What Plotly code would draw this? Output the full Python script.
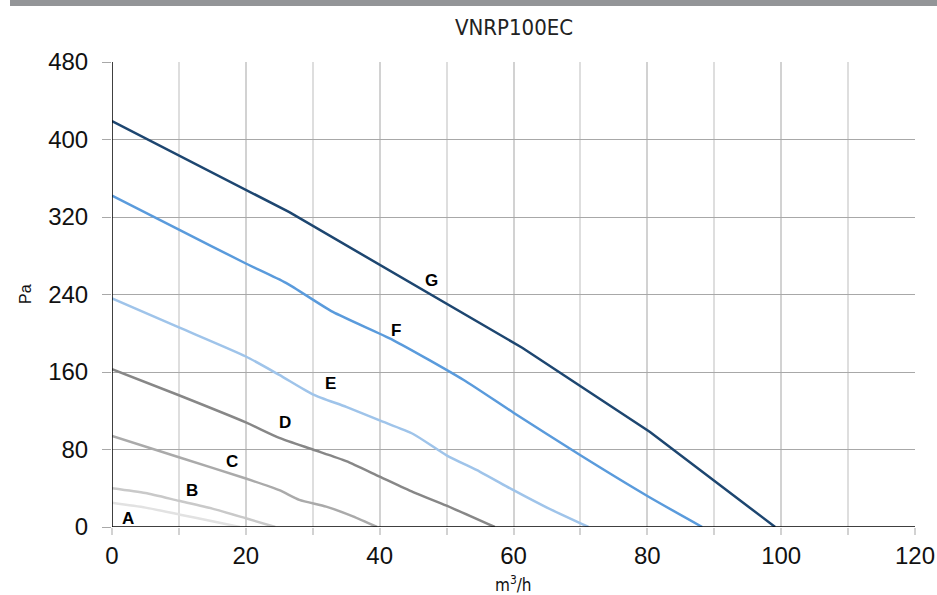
import plotly.graph_objects as go

# ---- data ----
series_names = ["A", "B", "C", "D", "E", "F", "G"]
A_x = [0, 5, 10, 15, 19.1]
A_y = [25, 20, 13, 6, 0]
B_x = [0, 5, 10, 15, 20, 24.4]
B_y = [40, 35, 27, 19, 9, 0]
C_x = [0, 10, 20, 25, 28, 32, 36, 39.6]
C_y = [94, 72, 50, 38, 28, 21, 11, 0]
D_x = [0, 10, 20, 25, 30, 35, 40, 45, 50, 57.2]
D_y = [163, 136, 108, 92, 80, 68, 52, 36, 22, 0]
E_x = [0, 10, 20, 25, 30, 35, 40, 45, 50, 55, 60, 65, 71.2]
E_y = [236, 206, 176, 157, 137, 124, 110, 96, 74, 57, 38, 20, 0]
F_x = [0, 10, 20, 26, 33, 42, 52.5, 60, 70, 80, 88.2]
F_y = [342, 307, 272, 252, 222, 193, 152, 118, 74, 32, 0]
G_x = [0, 26.5, 61.3, 80.4, 99.1]
G_y = [419, 325, 185, 98, 0]

label_x = [2.4, 12, 18, 25.9, 32.7, 42.5, 47.7]
label_y = [9, 38, 68, 108, 148, 203, 254]

colors = ["#e2e2e2", "#c9c9c9", "#aaaaaa", "#878787", "#9fc4ea", "#5a9bdc", "#1d4670"]

xs = [A_x, B_x, C_x, D_x, E_x, F_x, G_x]
ys = [A_y, B_y, C_y, D_y, E_y, F_y, G_y]

x_ticks = [0, 20, 40, 60, 80, 100, 120]
y_ticks = [0, 80, 160, 240, 320, 400, 480]

title_text = "VNRP100EC"
x_title = "m<sup>3</sup>/h"
y_title = "Pa"

SANS = "Liberation Sans, Arial, Helvetica, sans-serif"
COND = "DejaVu Sans Condensed, Liberation Sans Narrow, Arial Narrow, sans-serif"

fig = go.Figure()
for name, x, y, c in zip(series_names, xs, ys, colors):
    fig.add_trace(go.Scatter(
        x=x, y=y, mode="lines", name=name,
        line=dict(color=c, width=2.5, shape="spline" if name != "G" else "linear", smoothing=0.6),
        hoverinfo="skip", showlegend=False,
    ))

for name, lx, ly in zip(series_names, label_x, label_y):
    fig.add_annotation(x=lx, y=ly, text="<b>%s</b>" % name, showarrow=False,
                       font=dict(family=SANS, size=17, color="black"))

fig.update_xaxes(
    range=[0, 120], tickvals=x_ticks, ticktext=[str(v) for v in x_ticks],
    showgrid=True, gridcolor="#d2d2d2", gridwidth=1.5,
    minor=dict(dtick=10, showgrid=True, gridcolor="#dedede", gridwidth=1.5,
               ticks="outside", ticklen=7, tickcolor="#d2d2d2", tickwidth=1.5),
    ticks="outside", ticklen=7, tickcolor="#d2d2d2", tickwidth=1.5,
    ticklabelstandoff=0,
    automargin=False,
    showline=False, zeroline=False,
    tickfont=dict(family=SANS, size=24, color="#111"),
)
fig.update_yaxes(
    range=[0, 480], tickvals=y_ticks, ticktext=[str(v) for v in y_ticks],
    showgrid=True, gridcolor="#a8a8a8", gridwidth=1,
    ticks="outside", ticklen=9, tickcolor="#a8a8a8",
    ticklabelstandoff=9,
    automargin=False,
    showline=False, zeroline=False,
    tickfont=dict(family=SANS, size=24, color="#111"),
)

# black axis lines at x=0 and y=0
fig.add_shape(type="line", xref="x", yref="y", x0=0, x1=0, y0=0, y1=480,
              line=dict(color="black", width=1.5), layer="above")
fig.add_shape(type="line", xref="x", yref="y", x0=0, x1=120, y0=0, y1=0,
              line=dict(color="black", width=1.5), layer="above")

# top grey bar
fig.add_shape(type="rect", xref="paper", yref="paper",
              x0=(10 - 112) / 803, x1=(937 - 112) / 803,
              y0=1 + (62 - 6) / 465, y1=1 + 62 / 465,
              line=dict(width=0), fillcolor="#939598")

fig.add_annotation(xref="paper", yref="paper", x=0.5, y=1 + (62 - 27) / 465, text=title_text,
                   showarrow=False, yanchor="middle",
                   font=dict(family=COND, size=22, color="#222"))
fig.add_annotation(xref="paper", yref="paper", x=(25 - 112) / 803, y=(527 - 294) / 465, text=y_title,
                   showarrow=False, textangle=-90, xanchor="center", yanchor="middle",
                   font=dict(family=SANS, size=16, color="#111"))
fig.add_annotation(xref="paper", yref="paper", x=(513 - 112) / 803, y=-(584 - 527) / 465, text=x_title,
                   showarrow=False, xanchor="center", yanchor="middle",
                   font=dict(family=COND, size=17, color="#111"))

fig.update_layout(
    width=937, height=595,
    margin=dict(l=112, r=22, t=62, b=68),
    paper_bgcolor="white", plot_bgcolor="white",
)

fig.write_html("out.html", config={"displayModeBar": False},
               post_script="document.body.style.margin='0';")
